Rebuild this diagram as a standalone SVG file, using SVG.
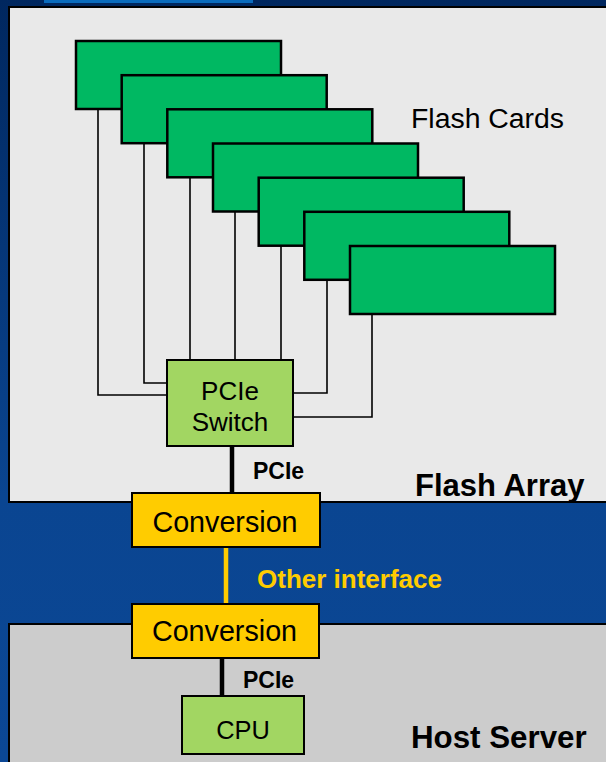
<svg xmlns="http://www.w3.org/2000/svg" width="606" height="762" viewBox="0 0 606 762">
<defs>
<linearGradient id="bg" x1="0" y1="0" x2="0" y2="1">
<stop offset="0" stop-color="#00275f"/>
<stop offset="0.65" stop-color="#0a4591"/>
<stop offset="1" stop-color="#0b4795"/>
</linearGradient>
</defs>
<style>
.card{fill:#00b862;stroke:#000;stroke-width:2.5}
.wire{fill:none;stroke:#000;stroke-width:1.6}
.thick{stroke:#000;stroke-width:4.5}
.yel{stroke:#ffcc00;stroke-width:4.5}
.conv{fill:#ffcc00;stroke:#000;stroke-width:2}
.lg{fill:#a2d662;stroke:#000;stroke-width:2}
.t{font-family:"Liberation Sans",Arial,sans-serif;fill:#000}
.b{font-family:"Liberation Sans",Arial,sans-serif;font-weight:bold}
</style>
<rect x="0" y="0" width="606" height="762" fill="url(#bg)"/>
<rect x="44" y="0" width="209" height="3" fill="#0b6cbd"/>
<g id="flash-array">
<rect x="9" y="7" width="610" height="495" fill="#e9e9e9" stroke="#000" stroke-width="2"/>
<text class="b" x="415" y="496" font-size="31">Flash Array</text>
</g>
<g id="host-server">
<rect x="9" y="624" width="610" height="150" fill="#cccccc" stroke="#000" stroke-width="2"/>
<text class="b" x="411" y="748" font-size="31.3">Host Server</text>
</g>
<g id="connectors">
<path class="wire" d="M98 109V395H167"/>
<path class="wire" d="M144 143V383H167"/>
<path class="wire" d="M190 177V360"/>
<path class="wire" d="M235 211V360"/>
<path class="wire" d="M281 246V360"/>
<path class="wire" d="M327 280V393H293"/>
<path class="wire" d="M372 314V417H293"/>
<line class="thick" x1="232" y1="446" x2="232" y2="493"/>
<line class="yel" x1="226" y1="547" x2="226" y2="604"/>
<line class="thick" x1="222" y1="658" x2="222" y2="696"/>
<text class="b" x="253" y="479" font-size="23" fill="#000">PCIe</text>
<text class="b" x="257" y="588" font-size="26" fill="#ffcc00">Other interface</text>
<text class="b" x="243" y="688" font-size="23" fill="#000">PCIe</text>
</g>
<g id="flash-cards">
<rect class="card" x="76" y="41" width="205" height="68"/>
<rect class="card" x="121.7" y="75.2" width="205" height="68"/>
<rect class="card" x="167.3" y="109.3" width="205" height="68"/>
<rect class="card" x="213" y="143.5" width="205" height="68"/>
<rect class="card" x="258.7" y="177.7" width="205" height="68"/>
<rect class="card" x="304.3" y="211.8" width="205" height="68"/>
<rect class="card" x="350" y="246" width="205" height="68"/>
<text class="t" x="411" y="128" font-size="28.4">Flash Cards</text>
</g>
<g id="pcie-switch">
<rect class="lg" x="167" y="360" width="126" height="86"/>
<text class="t" x="230" y="400" font-size="26" text-anchor="middle">PCIe</text>
<text class="t" x="230" y="431" font-size="26" text-anchor="middle">Switch</text>
</g>
<g id="conversion-1">
<rect class="conv" x="132" y="493" width="188" height="54"/>
<text class="t" x="225" y="532" font-size="28.7" text-anchor="middle">Conversion</text>
</g>
<g id="conversion-2">
<rect class="conv" x="132" y="604" width="187" height="54"/>
<text class="t" x="224.5" y="641" font-size="28.7" text-anchor="middle">Conversion</text>
</g>
<g id="cpu">
<rect class="lg" x="182" y="696" width="122" height="58"/>
<text class="t" x="243" y="739" font-size="25.4" text-anchor="middle">CPU</text>
</g>
</svg>
